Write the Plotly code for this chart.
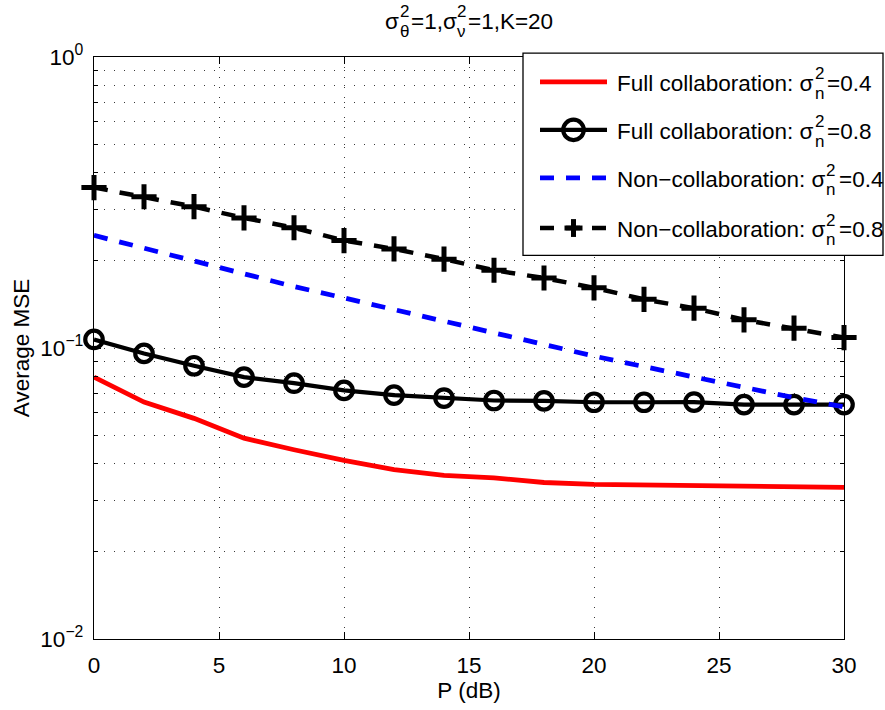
import plotly.graph_objects as go

# ---- data -------------------------------------------------------------
P_dB = [0, 2, 4, 6, 8, 10, 12, 14, 16, 18, 20, 22, 24, 26, 28, 30]

full_collab_04 = [0.0794, 0.0652, 0.0573, 0.0490, 0.0447, 0.0411, 0.0382, 0.0365,
                  0.0358, 0.0345, 0.0340, 0.0338, 0.0336, 0.0335, 0.0334, 0.0332]
full_collab_08 = [0.1070, 0.0958, 0.0869, 0.0794, 0.0757, 0.0715, 0.0689, 0.0673,
                  0.0660, 0.0658, 0.0651, 0.0651, 0.0652, 0.0639, 0.0639, 0.0639]
non_collab_04 = [0.2438, 0.2203, 0.1990, 0.1800, 0.1626, 0.1486, 0.1355, 0.1233,
                 0.1125, 0.1021, 0.0938, 0.0863, 0.0793, 0.0728, 0.0675, 0.0627]
non_collab_08 = [0.356, 0.331, 0.306, 0.280, 0.259, 0.234, 0.219, 0.202,
                 0.185, 0.174, 0.161, 0.147, 0.137, 0.125, 0.117, 0.1086]

x_ticks = [0, 5, 10, 15, 20, 25, 30]
y_ticks = [0.01, 0.1, 1]
y_tick_text = ["10<sup>\u22122</sup>", "10<sup>\u22121</sup>", "10<sup>0</sup>"]
y_minor = [k * 10.0 ** e for e in (-2, -1) for k in range(2, 10)]

# legend text pieces: text before the stacked script, the script pair, text after
legend_heads = ["Full collaboration: \u03c3", "Full collaboration: \u03c3",
                "Non\u2212collaboration: \u03c3", "Non\u2212collaboration: \u03c3"]
legend_tails = ["=0.4", "=0.8", "=0.4", "=0.8"]
legend_script = ("2", "n")

# title pieces: base text interleaved with (superscript, subscript) pairs
title_parts = ["\u03c3", ("2", "\u03b8"), "=1,\u03c3", ("2", "\u03bd"), "=1,K=20"]

# ---- page geometry ----------------------------------------------------
W, H = 885, 710
ML, MR, MT, MB = 94, 41, 57, 66
PW = W - ML - MR
PH = H - MT - MB

FONT = "Liberation Sans, Arial, Helvetica, sans-serif"
FS = 22.5
SS = 17

DASH = "14px,12px"
GRID_DASH = "1px,9px"
GRID_COLOR = "#3a3a3a"

# Arial / Liberation Sans advance widths (em), for placing the stacked scripts
AW = {" ": .278, ":": .278, ",": .278, ".": .278, "=": .584, "\u2212": .584,
      "F": .611, "N": .722, "K": .667, "u": .556, "l": .222, "c": .5, "o": .556,
      "a": .556, "b": .556, "r": .333, "t": .278, "i": .222, "n": .556,
      "\u03c3": .60, "\u03b8": .556, "\u03bd": .5}


def tw(s, size):
    return sum(AW.get(ch, .556) for ch in s) * size


def px(xp):
    return (xp - ML) / PW


def py(yp):
    return (MT + PH - yp) / PH


def label(text, x, y, size=FS):
    return dict(text=text, x=px(x), y=py(y), xref="paper", yref="paper",
                xanchor="left", yanchor="middle", showarrow=False, borderpad=0,
                font=dict(family=FONT, size=size, color="black"))


def stacked_text(parts, x, y, adv, up=9.5, down=10.5):
    """Base text with superscript/subscript pairs set one above the other."""
    out = []
    for part in parts:
        if isinstance(part, str):
            out.append(label(part, x, y))
            x += tw(part, FS)
        else:
            s_up, s_dn = part
            out.append(label(s_up, x + 1.5, y - up, SS))
            out.append(label(s_dn, x + 1.5, y + down, SS))
            x += adv
    return out


fig = go.Figure()

fig.add_trace(go.Scatter(x=P_dB, y=full_collab_04, mode="lines",
                         line=dict(color="#ff0000", width=4.8), showlegend=False))
fig.add_trace(go.Scatter(x=P_dB, y=full_collab_08, mode="lines+markers",
                         line=dict(color="black", width=4.2),
                         marker=dict(symbol="circle-open", size=17.5, color="black",
                                     line=dict(width=4.2, color="black")),
                         showlegend=False, cliponaxis=False))
fig.add_trace(go.Scatter(x=P_dB, y=non_collab_04, mode="lines",
                         line=dict(color="#0000ff", width=4.8, dash=DASH), showlegend=False))
fig.add_trace(go.Scatter(x=P_dB, y=non_collab_08, mode="lines+markers",
                         line=dict(color="black", width=4.5, dash=DASH),
                         marker=dict(symbol="cross-thin", size=18, color="black",
                                     line=dict(width=5, color="black")),
                         showlegend=False, cliponaxis=False))

# ---- legend box ---------------------------------------------------------
LX0, LX1, LY0, LY1 = 523, 883, 53, 257
rows = [82, 130.5, 179, 229.5]
SX0, SX1 = 540, 607
MX = (SX0 + SX1) / 2
TX = 616

shapes = [dict(type="rect", xref="paper", yref="paper", layer="above",
               x0=px(LX0), x1=px(LX1), y0=py(LY1), y1=py(LY0),
               line=dict(color="black", width=1.3), fillcolor="white")]

sample_styles = [
    dict(color="#ff0000", width=4.8),
    dict(color="black", width=4.2),
    dict(color="#0000ff", width=4.8, dash=DASH),
    dict(color="black", width=4.5, dash=DASH),
]
for yr, st in zip(rows, sample_styles):
    shapes.append(dict(type="line", xref="paper", yref="paper", layer="above",
                       x0=px(SX0), x1=px(SX1), y0=py(yr), y1=py(yr), line=st))

r = 10.3
shapes.append(dict(type="circle", xref="paper", yref="paper", layer="above",
                   x0=px(MX - r), x1=px(MX + r), y0=py(rows[1] + r), y1=py(rows[1] - r),
                   line=dict(color="black", width=4.2), fillcolor="rgba(0,0,0,0)"))
c = 9
shapes.append(dict(type="line", xref="paper", yref="paper", layer="above",
                   x0=px(MX - c), x1=px(MX + c), y0=py(rows[3]), y1=py(rows[3]),
                   line=dict(color="black", width=5)))
shapes.append(dict(type="line", xref="paper", yref="paper", layer="above",
                   x0=px(MX), x1=px(MX), y0=py(rows[3] - c), y1=py(rows[3] + c),
                   line=dict(color="black", width=5)))

annotations = []
for yr, head, tail in zip(rows, legend_heads, legend_tails):
    annotations += stacked_text([head, legend_script, tail], TX, yr + 1.5, adv=14)

annotations += stacked_text(title_parts, 384, 21, adv=12)

axis_font = dict(family=FONT, size=FS, color="black")

fig.update_layout(
    width=W, height=H,
    margin=dict(l=ML, r=MR, t=MT, b=MB, pad=0),
    paper_bgcolor="white", plot_bgcolor="white",
    font=axis_font,
    shapes=shapes,
    annotations=annotations,
    xaxis=dict(range=[0, 30], tickvals=x_ticks, ticks="inside", ticklen=7,
               tickwidth=1, tickcolor="black", showline=True, linecolor="black",
               linewidth=1.3, mirror="ticks", showgrid=True, gridcolor=GRID_COLOR,
               gridwidth=1, griddash=GRID_DASH, zeroline=False,
               tickfont=axis_font, ticklabelstandoff=6,
               title=dict(text="P (dB)", font=axis_font, standoff=4)),
    yaxis=dict(type="log", range=[-2, 0], tickvals=y_ticks, ticktext=y_tick_text,
               ticks="inside", ticklen=7, tickwidth=1, tickcolor="black",
               showline=True, linecolor="black", linewidth=1.3, mirror="ticks",
               showgrid=True, gridcolor=GRID_COLOR, gridwidth=1, griddash=GRID_DASH,
               zeroline=False, tickfont=axis_font, ticklabelstandoff=5,
               minor=dict(tickmode="array", tickvals=y_minor, ticks="inside",
                          ticklen=4, tickcolor="black", showgrid=True,
                          gridcolor=GRID_COLOR, gridwidth=1, griddash=GRID_DASH),
               title=dict(text="Average MSE", font=axis_font, standoff=4)),
)

fig.write_html("out.html")
